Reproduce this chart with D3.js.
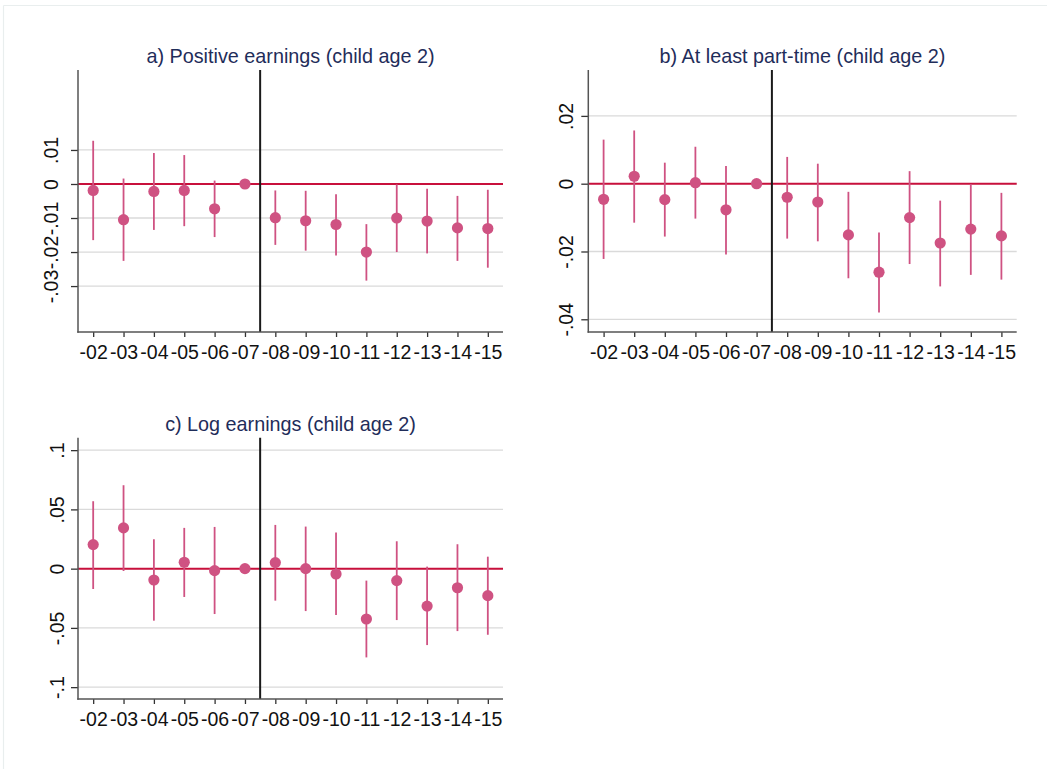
<!DOCTYPE html>
<html>
<head>
<meta charset="utf-8">
<script src="https://cdn.jsdelivr.net/npm/d3@7"></script>
<style>
  html, body { margin: 0; padding: 0; background: #ffffff; }
  svg { display: block; font-family: Arial, "Liberation Sans", Helvetica, sans-serif; }
</style>
</head>
<body>
<svg id="chart" width="1047" height="769"></svg>
<script>
// Event-study coefficients by year, base year -07 normalised to zero
const years = ["-02", "-03", "-04", "-05", "-06", "-07", "-08", "-09", "-10", "-11", "-12", "-13", "-14", "-15"];

const titleA = "a) Positive earnings (child age 2)";
const estA = [-0.0019, -0.0105, -0.0022, -0.0019, -0.0073, 0, -0.0099, -0.0108, -0.0119, -0.0200, -0.0100, -0.0109, -0.0129, -0.0131];
const loA  = [-0.0165, -0.0226, -0.0135, -0.0124, -0.0156, 0, -0.0179, -0.0196, -0.0210, -0.0284, -0.0200, -0.0204, -0.0226, -0.0246];
const hiA  = [0.0127, 0.0016, 0.0091, 0.0085, 0.0010, 0, -0.0019, -0.0020, -0.0030, -0.0118, -0.0001, -0.0014, -0.0035, -0.0017];
const ticksA = [0.01, 0, -0.01, -0.02, -0.03];
const tickLabelsA = [".01", "0", "-.01", "-.02", "-.03"];
const rangeA = [-0.0435, 0.0335];

const titleB = "b) At least part-time (child age 2)";
const estB = [-0.0046, 0.0022, -0.0047, 0.0003, -0.0077, 0, -0.0040, -0.0054, -0.0151, -0.0261, -0.0100, -0.0175, -0.0134, -0.0154];
const loB  = [-0.0222, -0.0115, -0.0156, -0.0103, -0.0209, 0, -0.0162, -0.0170, -0.0279, -0.0380, -0.0237, -0.0303, -0.0269, -0.0283];
const hiB  = [0.0130, 0.0157, 0.0062, 0.0109, 0.0052, 0, 0.0079, 0.0059, -0.0024, -0.0144, 0.0037, -0.0050, -0.0001, -0.0027];
const ticksB = [0.02, 0, -0.02, -0.04];
const tickLabelsB = [".02", "0", "-.02", "-.04"];
const rangeB = [-0.04375, 0.03354];

const titleC = "c) Log earnings (child age 2)";
const estC = [0.0203, 0.0344, -0.0096, 0.0054, -0.0017, 0, 0.0051, 0.0000, -0.0045, -0.0425, -0.0101, -0.0316, -0.0161, -0.0228];
const loC  = [-0.0172, -0.0020, -0.0439, -0.0239, -0.0383, 0, -0.0270, -0.0358, -0.0392, -0.0749, -0.0434, -0.0645, -0.0527, -0.0558];
const hiC  = [0.0569, 0.0704, 0.0248, 0.0344, 0.0352, 0, 0.0369, 0.0355, 0.0304, -0.0101, 0.0231, 0.0017, 0.0206, 0.0101];
const ticksC = [0.1, 0.05, 0, -0.05, -0.1];
const tickLabelsC = [".1", ".05", "0", "-.05", "-.1"];
const rangeC = [-0.110, 0.1105];

// Position (in year slots) of the reform line, between -07 and -08
const reformAt = 5.5;

const svg = d3.select("#chart");

// Light outer frame of the graph region
svg.append("line").attr("x1", 3.5).attr("x2", 1047).attr("y1", 5.5).attr("y2", 5.5)
  .attr("stroke", "#e9eeee").attr("stroke-width", 1.2);
svg.append("line").attr("x1", 3.5).attr("x2", 3.5).attr("y1", 5.5).attr("y2", 769)
  .attr("stroke", "#e9eeee").attr("stroke-width", 1.2);

const FONT = 19.5;
const TITLE_FONT = 19.8;
const DOT = "#cf5282";
const TITLE_COLOR = "#1f2d5a";

function panel(cfg) {
  const g = svg.append("g");
  const x = d3.scaleLinear().domain([-0.5, years.length - 0.5]).range([cfg.left, cfg.right]);
  const y = d3.scaleLinear().domain(cfg.range).range([cfg.bottom, cfg.top]);

  // Horizontal grid lines
  g.selectAll("line.grid").data(cfg.ticks).join("line")
    .attr("x1", cfg.left).attr("x2", cfg.right)
    .attr("y1", d => y(d)).attr("y2", d => y(d))
    .attr("stroke", "#dadada").attr("stroke-width", 1.3);

  // Zero reference line
  g.append("line").attr("x1", cfg.left).attr("x2", cfg.right)
    .attr("y1", y(0)).attr("y2", y(0))
    .attr("stroke", "#c8103c").attr("stroke-width", 2);

  // Reform year marker
  g.append("line").attr("x1", x(reformAt)).attr("x2", x(reformAt))
    .attr("y1", cfg.top).attr("y2", cfg.bottom)
    .attr("stroke", "#1a1a1a").attr("stroke-width", 2);

  // Y axis
  const yAxis = d3.axisLeft(y).tickValues(cfg.ticks).tickSize(7)
    .tickFormat((d, i) => cfg.tickLabels[i]);
  const ya = g.append("g").attr("transform", `translate(${cfg.left},0)`).call(yAxis);
  ya.select(".domain").remove();
  ya.selectAll(".tick line").attr("stroke", "#333").attr("stroke-width", 1.3);
  ya.selectAll(".tick text")
    .attr("x", 0).attr("dy", 0)
    .attr("transform", `translate(${-cfg.labelGap},0) rotate(-90)`)
    .attr("text-anchor", "middle")
    .attr("fill", "#111").style("font-size", FONT + "px");
  g.append("line").attr("x1", cfg.left).attr("x2", cfg.left)
    .attr("y1", cfg.top).attr("y2", cfg.bottom + 0.7)
    .attr("stroke", "#555").attr("stroke-width", 1.5);

  // X axis
  const xAxis = d3.axisBottom(x).tickValues(d3.range(years.length)).tickSize(5)
    .tickFormat(i => years[i]);
  const xa = g.append("g").attr("transform", `translate(0,${cfg.bottom})`).call(xAxis);
  xa.select(".domain").remove();
  xa.selectAll(".tick line").attr("stroke", "#333").attr("stroke-width", 1.3);
  xa.selectAll(".tick text").attr("y", 27).attr("dy", 0)
    .attr("fill", "#111").style("font-size", FONT + "px");
  g.append("line").attr("x1", cfg.left - 0.7).attr("x2", cfg.right)
    .attr("y1", cfg.bottom).attr("y2", cfg.bottom)
    .attr("stroke", "#555").attr("stroke-width", 1.5);

  // Confidence intervals
  g.selectAll("line.ci").data(years.map((d, i) => i)).join("line")
    .attr("x1", i => x(i)).attr("x2", i => x(i))
    .attr("y1", i => y(cfg.lo[i])).attr("y2", i => y(cfg.hi[i]))
    .attr("stroke", DOT).attr("stroke-width", 1.8);

  // Point estimates
  g.selectAll("circle.est").data(years.map((d, i) => i)).join("circle")
    .attr("cx", i => x(i)).attr("cy", i => y(cfg.est[i])).attr("r", 5.6)
    .attr("fill", DOT);

  // Panel title
  g.append("text").attr("x", (cfg.left + cfg.right) / 2).attr("y", cfg.top - 7)
    .attr("text-anchor", "middle").attr("fill", TITLE_COLOR)
    .style("font-size", TITLE_FONT + "px").text(cfg.title);
}

panel({ title: titleA, est: estA, lo: loA, hi: hiA, ticks: ticksA, tickLabels: tickLabelsA, range: rangeA,
        left: 78, right: 503, top: 70, bottom: 332, labelGap: 20.5 });
panel({ title: titleB, est: estB, lo: loB, hi: hiB, ticks: ticksB, tickLabels: tickLabelsB, range: rangeB,
        left: 588.3, right: 1016.7, top: 70, bottom: 332, labelGap: 15 });
panel({ title: titleC, est: estC, lo: loC, hi: hiC, ticks: ticksC, tickLabels: tickLabelsC, range: rangeC,
        left: 78, right: 503, top: 437.7, bottom: 699, labelGap: 14.5 });
</script>
</body>
</html>
